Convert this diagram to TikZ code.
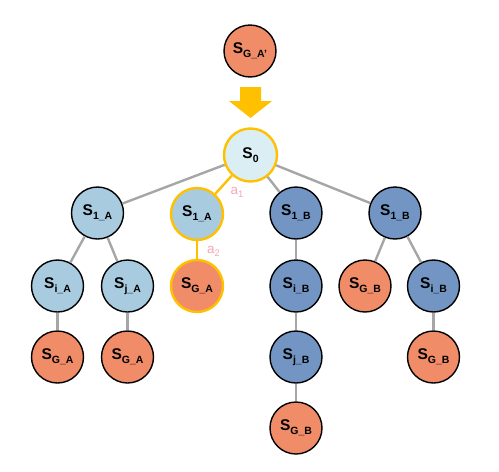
\documentclass[tikz,border=0pt]{standalone}
\usepackage{fontspec}
\setmainfont{Liberation Sans}
\definecolor{lblue}{HTML}{A8CBE0}
\definecolor{dblue}{HTML}{7295C4}
\definecolor{salmon}{HTML}{F08C68}
\definecolor{rootc}{HTML}{DAEEF3}
\definecolor{gold}{HTML}{FFC000}
\definecolor{edgec}{HTML}{A6A6A6}
\definecolor{pinkc}{HTML}{F4A7B4}
\newcommand{\slab}[1]{\textbf{\fontsize{15.5}{15.5}\selectfont S\raisebox{-0.45ex}{\fontsize{10.5}{10.5}\selectfont #1}}}
\tikzset{
  st/.style={circle, minimum size=52pt, inner sep=0pt, draw=black, line width=1.4pt},
  la/.style={st, fill=lblue},
  da/.style={st, fill=dblue},
  go/.style={st, fill=salmon},
  hl/.style={draw=gold, line width=2.4pt},
  ed/.style={draw=edgec, line width=2.4pt},
  hed/.style={draw=gold, line width=2.4pt},
  alab/.style={text=pinkc, font=\fontsize{13.5}{13.5}\selectfont}
}
\begin{document}
\begin{tikzpicture}[x=1pt,y=-1pt]
\useasboundingbox (0,0) rectangle (499,472);
% nodes
\node[go] (top) at (250,51) {\slab{G\_A'}};
\node[st, fill=rootc, hl, minimum size=53pt] (s0) at (250.5,155) {\slab{0}};
\node[la] (a1) at (97.5,213) {\slab{1\_A}};
\node[la, hl] (a1h) at (197,214) {\slab{1\_A}};
\node[da] (b1) at (296,213) {\slab{1\_B}};
\node[da] (b1r) at (395,213) {\slab{1\_B}};
\node[la] (ia) at (57.5,286) {\slab{i\_A}};
\node[la] (ja) at (127.5,286) {\slab{j\_A}};
\node[go, hl] (gah) at (197,286) {\slab{G\_A}};
\node[da] (ib) at (296,286) {\slab{i\_B}};
\node[go] (gbr1) at (365,286) {\slab{G\_B}};
\node[da] (ibr) at (433.5,286) {\slab{i\_B}};
\node[go] (ga1) at (57.5,357) {\slab{G\_A}};
\node[go] (ga2) at (127.5,357) {\slab{G\_A}};
\node[da] (jb) at (296,357) {\slab{j\_B}};
\node[go] (gbr2) at (433.5,357) {\slab{G\_B}};
\node[go] (gb) at (296,428) {\slab{G\_B}};
% edges
\draw[ed] (s0) -- (a1);
\draw[ed] (s0) -- (b1);
\draw[ed] (s0) -- (b1r);
\draw[hed] (s0) -- (a1h);
\draw[hed] (a1h) -- (gah);
\draw[ed] (a1) -- (ia);
\draw[ed] (a1) -- (ja);
\draw[ed] (ia) -- (ga1);
\draw[ed] (ja) -- (ga2);
\draw[ed] (b1) -- (ib);
\draw[ed] (ib) -- (jb);
\draw[ed] (jb) -- (gb);
\draw[ed] (b1r) -- (gbr1);
\draw[ed] (b1r) -- (ibr);
\draw[ed] (ibr) -- (gbr2);
% edge labels
\node[alab] (la1) at (237,192) {a\raisebox{-0.4ex}{\fontsize{9.5}{9.5}\selectfont 1}};
\node[alab] (la2) at (213.5,251) {a\raisebox{-0.4ex}{\fontsize{9.5}{9.5}\selectfont 2}};
% big arrow
\fill[gold] (240,87) -- (261,87) -- (261,101) -- (272,101) -- (250.5,118) -- (229,101) -- (240,101) -- cycle;
\end{tikzpicture}
\end{document}
